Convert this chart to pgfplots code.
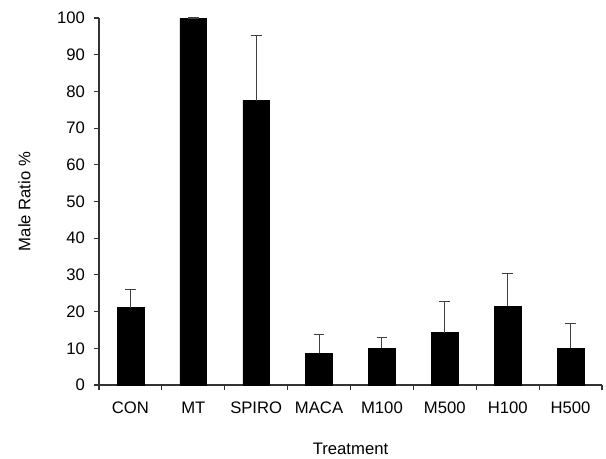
\documentclass[border=0pt]{standalone}
\usepackage{pgfplots}
\pgfplotsset{compat=1.18}
\usepackage{fontspec}
\setmainfont{Liberation Sans}
\begin{document}
\begin{tikzpicture}
\begin{axis}[
  scale only axis,
  width=377.25pt, height=275.25pt,
  xmin=-0.5, xmax=7.5,
  ymin=0, ymax=100,
  axis x line=bottom, axis y line=left,
  axis line style={-, line width=0.8pt, black!80},
  ytick={0,10,...,100},
  xtick={0,...,7},
  xticklabels={CON,MT,SPIRO,MACA,M100,M500,H100,H500},
  major x tick style={draw=none},
  minor xtick={-0.5,0.5,...,7.5},
  minor x tick style={line width=0.8pt, black!80},
  minor tick length=4pt,
  major tick length=4pt,
  tick align=outside,
  y tick style={line width=0.8pt, black!80},
  tick label style={font=\fontsize{12.5}{14}\selectfont},
  label style={font=\fontsize{12.5}{14}\selectfont},
  xticklabel style={yshift=-5pt},
  yticklabel style={xshift=-3pt},
  xlabel={Treatment},
  ylabel={Male Ratio \%},
  xlabel style={yshift=-15pt},
  ylabel style={yshift=13pt},
  /pgf/number format/assume math mode=true,
  clip=false,
]
\addplot[ybar, bar width=20pt, fill=black, draw=black,
  error bars/.cd, y dir=plus, y explicit,
  error bar style={line width=0.8pt, black!75},
  error mark options={rotate=90, mark size=4pt, line width=0.8pt, black!75}]
coordinates {
 (0,21.1) +- (0,5.0)
 (1,100) +- (0,0)
 (2,77.5) +- (0,17.7)
 (3,8.7) +- (0,5.0)
 (4,10.0) +- (0,2.9)
 (5,14.3) +- (0,8.4)
 (6,21.5) +- (0,8.8)
 (7,10.0) +- (0,6.8)
};
\end{axis}
\useasboundingbox ([xshift=-74.25pt,yshift=-51.75pt]current axis.south west) rectangle ([xshift=3pt,yshift=13.5pt]current axis.north east);
\end{tikzpicture}
\end{document}
